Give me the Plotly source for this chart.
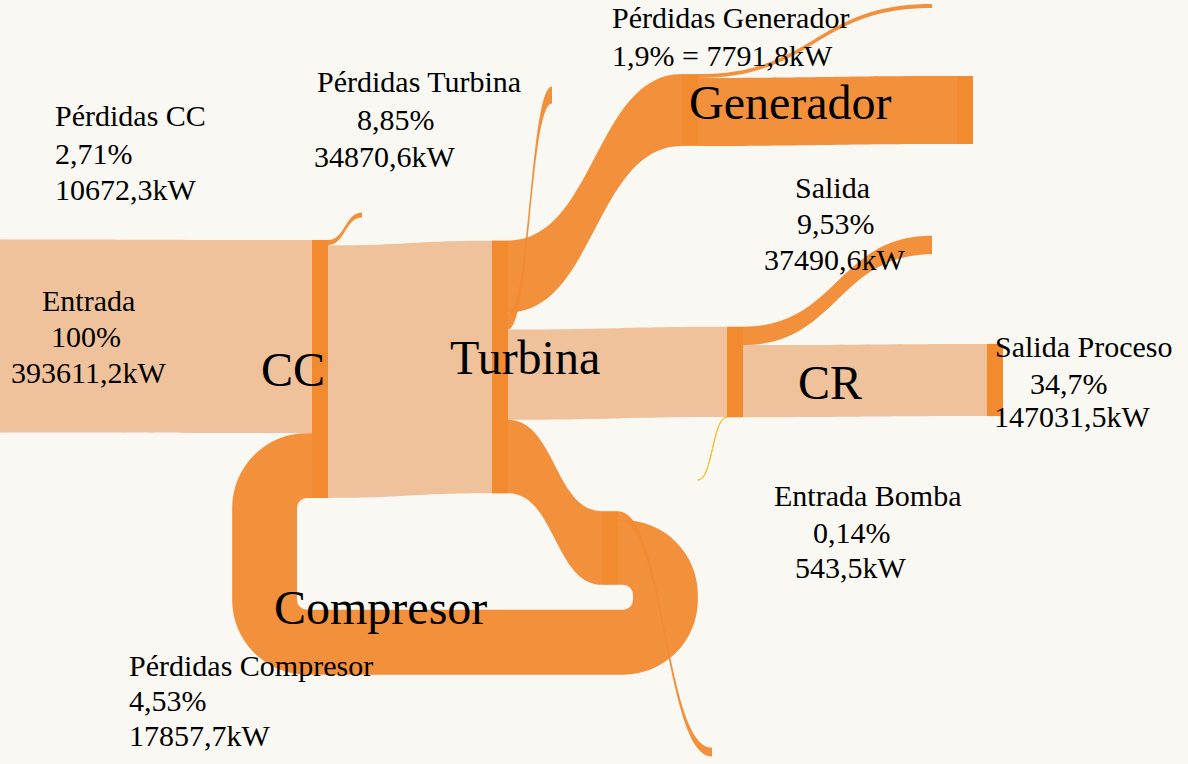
import plotly.graph_objects as go

# ---------------- data ----------------
node_names = ["Entrada", "CC", "Turbina", "Generador", "CR", "Compresor",
              "Pérdidas CC", "Pérdidas Turbina", "Pérdidas Generador", "Salida",
              "Salida Proceso", "Entrada Bomba", "Pérdidas Compresor", "Salida Generador"]

link_source = ["Entrada", "CC", "CC", "Turbina", "Turbina", "Turbina", "Turbina",
               "Generador", "Generador", "CR", "CR", "Entrada Bomba", "Compresor", "Compresor"]
link_target = ["CC", "Pérdidas CC", "Turbina", "Pérdidas Turbina", "Generador", "CR", "Compresor",
               "Pérdidas Generador", "Salida Generador", "Salida", "Salida Proceso", "CR",
               "Pérdidas Compresor", "CC"]
link_value = [393611.2, 10672.3, 515081.2, 34870.6, 146232.0, 183978.6, 150000.0,
              7791.8, 138440.2, 37490.6, 147031.5, 543.5, 17857.7, 132142.3]

# label lines
entrada_lines = ["Entrada", "100%", "393611,2kW"]
perd_cc_lines = ["Pérdidas CC", "2,71%", "10672,3kW"]
perd_turb_lines = ["Pérdidas Turbina", "8,85%", "34870,6kW"]
perd_gen_lines = ["Pérdidas Generador", "1,9% = 7791,8kW"]
salida_lines = ["Salida", "9,53%", "37490,6kW"]
proceso_lines = ["Salida Proceso", "34,7%", "147031,5kW"]
bomba_lines = ["Entrada Bomba", "0,14%", "543,5kW"]
perd_comp_lines = ["Pérdidas Compresor", "4,53%", "17857,7kW"]
block_names = ["CC", "Turbina", "Generador", "CR", "Compresor"]

# ---------------- layout ----------------
W, H = 1188, 764
DH = 565  # sankey domain height in px (top part of the page)

# node centers in page pixels
node_px = {"Entrada": (2, 336), "CC": (320, 369), "Turbina": (500, 367),
           "Generador": (690, 110), "CR": (735, 372), "Compresor": (610, 548),
           "Pérdidas CC": (370, 215), "Pérdidas Turbina": (560, 95),
           "Pérdidas Generador": (940, 6), "Salida": (940, 245),
           "Salida Proceso": (995, 380), "Entrada Bomba": (690, 480),
           "Pérdidas Compresor": (720, 752), "Salida Generador": (965, 110)}

ORANGE = "#F28A30"
LIGHT = "#EFC29B"
CLEAR = "rgba(0,0,0,0)"
node_colors_map = {"Entrada": LIGHT, "Pérdidas CC": CLEAR, "Pérdidas Turbina": CLEAR,
                   "Pérdidas Generador": CLEAR, "Salida": CLEAR, "Entrada Bomba": CLEAR,
                   "Pérdidas Compresor": CLEAR}

idx = {n: i for i, n in enumerate(node_names)}
light_links = {("Entrada", "CC"), ("CC", "Turbina"), ("Turbina", "CR"), ("CR", "Salida Proceso")}
link_colors = []
for s, t in zip(link_source, link_target):
    if (s, t) in light_links:
        link_colors.append(LIGHT)
    elif s == "Entrada Bomba":
        link_colors.append("#F0C020")
    else:
        link_colors.append("rgba(242,138,48,0.95)")

fig = go.Figure(go.Sankey(
    arrangement="fixed",
    domain=dict(x=[0, 1], y=[1 - DH / H, 1]),
    node=dict(
        label=["" for _ in node_names],
        x=[node_px[n][0] / W for n in node_names],
        y=[node_px[n][1] / DH for n in node_names],
        color=[node_colors_map.get(n, ORANGE) for n in node_names],
        thickness=16,
        pad=5,
        line=dict(width=0),
        hoverinfo="none",
    ),
    link=dict(
        source=[idx[s] for s in link_source],
        target=[idx[t] for t in link_target],
        value=link_value,
        color=link_colors,
        hoverinfo="none",
    ),
))

SERIF = "Liberation Serif"
annotations = []


def add_lines(lines, xs, ys, anchor):
    for txt, x, y in zip(lines, xs, ys):
        annotations.append(dict(text=txt, x=x / W, y=1 - y / H, xref="paper", yref="paper",
                                xanchor=anchor, yanchor="middle", showarrow=False,
                                font=dict(family=SERIF, size=30, color="black")))


add_lines(entrada_lines, [88, 86, 88], [300, 336, 372], "center")
add_lines(perd_cc_lines, [53, 53, 53], [115, 153, 190], "left")
add_lines(perd_turb_lines, [315, 355, 312], [82, 119, 156], "left")
add_lines(perd_gen_lines, [610, 610], [18, 55], "left")
add_lines(salida_lines, [833, 836, 835], [187, 223, 259], "center")
add_lines(proceso_lines, [1083, 1069, 1072], [346, 383, 416], "center")
add_lines(bomba_lines, [867, 852, 851], [495, 532, 567], "center")
add_lines(perd_comp_lines, [127, 127, 127], [665, 700, 735], "left")

block_pos = [(293, 370), (525, 357), (790, 103), (830, 382), (380, 607)]
for name, (bx, by) in zip(block_names, block_pos):
    annotations.append(dict(text=name, x=bx / W, y=1 - by / H, xref="paper", yref="paper",
                            xanchor="center", yanchor="middle", showarrow=False,
                            font=dict(family=SERIF, size=48, color="black")))

fig.update_layout(
    width=W, height=H,
    paper_bgcolor="#FAF8F3",
    plot_bgcolor="#FAF8F3",
    margin=dict(l=0, r=0, t=0, b=0),
    font=dict(family=SERIF, size=30, color="black"),
    annotations=annotations,
)

fig.write_html("out.html",
               config={"displayModeBar": False},
               post_script="document.body.style.margin='0';"
                           "document.body.style.background='#FAF8F3';")
